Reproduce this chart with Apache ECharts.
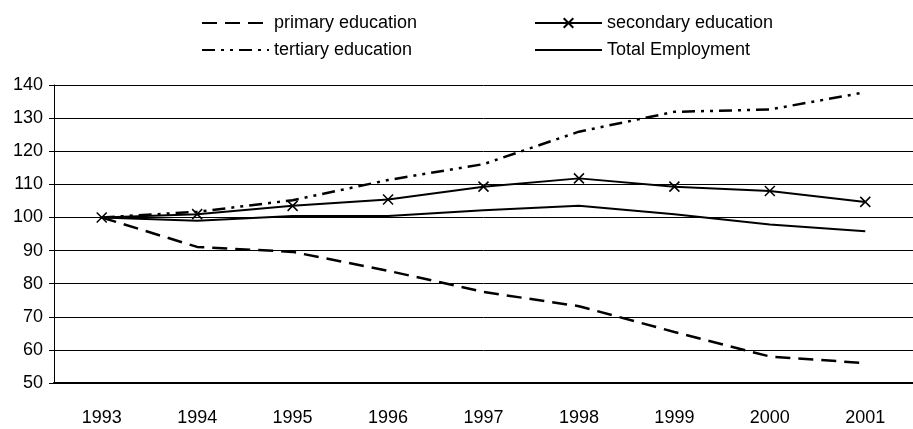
<!DOCTYPE html>
<html>
<head>
<meta charset="utf-8">
<script src="https://cdn.jsdelivr.net/npm/echarts@6/dist/echarts.min.js"></script>
<style>
  html, body { margin: 0; padding: 0; background: #fff; }
  #chart { width: 913px; height: 429px; }
</style>
</head>
<body>
<div id="chart"></div>
<script>
var years = ['1993', '1994', '1995', '1996', '1997', '1998', '1999', '2000', '2001'];
var primary = [100, 91.1, 89.6, 83.9, 77.5, 73.2, 65.4, 58.0, 56.0];
var secondary = [100, 101.0, 103.5, 105.4, 109.3, 111.8, 109.3, 108.0, 104.7];
var tertiary = [100, 101.7, 105.2, 111.3, 116.1, 125.9, 131.9, 132.6, 137.8];
var total = [100, 99.0, 100.4, 100.4, 102.2, 103.5, 101.0, 97.9, 95.8];

var font = 'Liberation Sans, Arial, sans-serif';
var chart = echarts.init(document.getElementById('chart'));

// hide the default circle that line series put in legend icons
var noDot = { color: 'transparent', borderColor: 'transparent', borderWidth: 0 };

var legendBase = {
    orient: 'vertical',
    top: 9,
    itemWidth: 67,
    itemHeight: 12,
    itemGap: 9,
    textStyle: { fontFamily: font, fontSize: 18, color: '#000' }
};

chart.setOption({
    backgroundColor: '#fff',
    animation: false,
    legend: [
        Object.assign({
            left: 196,
            data: [
                { name: 'primary education', itemStyle: noDot },
                { name: 'tertiary education', itemStyle: noDot }
            ]
        }, legendBase),
        Object.assign({
            left: 529,
            data: [
                { name: 'secondary education' },
                { name: 'Total Employment', itemStyle: noDot }
            ]
        }, legendBase)
    ],
    grid: { left: 54, right: -11, top: 85, bottom: 46 },
    xAxis: {
        type: 'category',
        data: years,
        boundaryGap: true,
        axisLine: { lineStyle: { color: '#000', width: 2 } },
        axisTick: { length: 7, lineStyle: { color: '#000' } },
        axisLabel: { color: '#000', fontFamily: font, fontSize: 18, margin: 26 }
    },
    yAxis: {
        type: 'value',
        min: 50,
        max: 140,
        interval: 10,
        axisLine: { show: true, lineStyle: { color: '#000' } },
        axisTick: { show: true, length: 5, lineStyle: { color: '#000' } },
        axisLabel: { color: '#000', fontFamily: font, fontSize: 18, margin: 11 },
        splitLine: { lineStyle: { color: '#000', width: 1 } }
    },
    series: [
        {
            name: 'primary education',
            type: 'line',
            data: primary,
            symbol: 'none',
            lineStyle: { color: '#000', width: 2.5, type: [15, 8] },
            itemStyle: { color: '#000' }
        },
        {
            name: 'secondary education',
            type: 'line',
            data: secondary,
            symbol: 'path://M0,0L10,10M10,0L0,10',
            symbolSize: 10,
            lineStyle: { color: '#000', width: 2 },
            itemStyle: { color: 'transparent', borderColor: '#000', borderWidth: 1.5 }
        },
        {
            name: 'tertiary education',
            type: 'line',
            data: tertiary,
            symbol: 'none',
            lineStyle: { color: '#000', width: 2.5, type: [13, 6, 3, 6, 3, 6] },
            itemStyle: { color: '#000' }
        },
        {
            name: 'Total Employment',
            type: 'line',
            data: total,
            symbol: 'none',
            lineStyle: { color: '#000', width: 2 },
            itemStyle: { color: '#000' }
        }
    ]
});
</script>
</body>
</html>
